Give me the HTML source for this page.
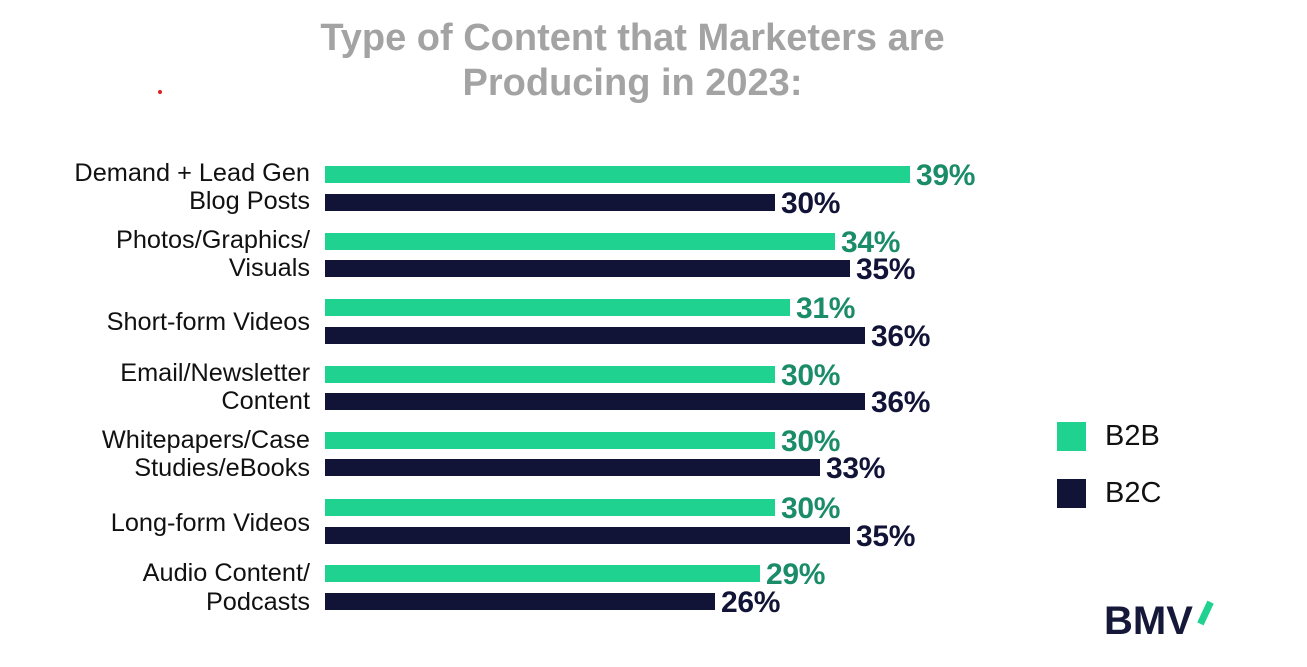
<!DOCTYPE html>
<html><head><style>
body{margin:0;width:1307px;height:667px;background:#fff;overflow:hidden;font-family:"Liberation Sans",sans-serif;position:relative}
.t{position:absolute;left:0;width:1265px;text-align:center;color:#a3a3a3;font-weight:bold;font-size:38px;line-height:45px;top:16px}
.l{position:absolute;right:997px;text-align:right;color:#111;font-size:25.3px;line-height:28px;white-space:nowrap}
.b{position:absolute;left:325px;height:17px}
.g{background:#1fd28f}.n{background:#121437}
.v{position:absolute;font-weight:bold;font-size:30px;line-height:30px;letter-spacing:-0.3px}
.vg{color:#1b8c68}.vn{color:#121437}
</style></head><body>
<div class="t">Type of Content that Marketers are<br>Producing in 2023:</div>
<div style="position:absolute;left:158px;top:90px;width:4px;height:4px;border-radius:2px;background:#d22"></div>

<div class="l" style="top:159px">Demand + Lead Gen</div>
<div class="l" style="top:187px">Blog Posts</div>
<div class="l" style="top:226px">Photos/Graphics/</div>
<div class="l" style="top:254px">Visuals</div>
<div class="l" style="top:308px">Short-form Videos</div>
<div class="l" style="top:359px">Email/Newsletter</div>
<div class="l" style="top:387px">Content</div>
<div class="l" style="top:426px">Whitepapers/Case</div>
<div class="l" style="top:454px">Studies/eBooks</div>
<div class="l" style="top:509px">Long-form Videos</div>
<div class="l" style="top:559px">Audio Content/</div>
<div class="l" style="top:588px">Podcasts</div>

<div class="b g" style="top:166px;width:585px"></div><div class="v vg" style="left:916px;top:161px">39%</div>
<div class="b n" style="top:194px;width:450px"></div><div class="v vn" style="left:781px;top:189px">30%</div>
<div class="b g" style="top:233px;width:510px"></div><div class="v vg" style="left:841px;top:228px">34%</div>
<div class="b n" style="top:260px;width:525px"></div><div class="v vn" style="left:856px;top:255px">35%</div>
<div class="b g" style="top:299px;width:465px"></div><div class="v vg" style="left:796px;top:294px">31%</div>
<div class="b n" style="top:327px;width:540px"></div><div class="v vn" style="left:871px;top:322px">36%</div>
<div class="b g" style="top:366px;width:450px"></div><div class="v vg" style="left:781px;top:361px">30%</div>
<div class="b n" style="top:393px;width:540px"></div><div class="v vn" style="left:871px;top:388px">36%</div>
<div class="b g" style="top:432px;width:450px"></div><div class="v vg" style="left:781px;top:427px">30%</div>
<div class="b n" style="top:459px;width:495px"></div><div class="v vn" style="left:826px;top:454px">33%</div>
<div class="b g" style="top:499px;width:450px"></div><div class="v vg" style="left:781px;top:494px">30%</div>
<div class="b n" style="top:527px;width:525px"></div><div class="v vn" style="left:856px;top:522px">35%</div>
<div class="b g" style="top:565px;width:435px"></div><div class="v vg" style="left:766px;top:560px">29%</div>
<div class="b n" style="top:593px;width:390px"></div><div class="v vn" style="left:721px;top:588px">26%</div>

<div style="position:absolute;left:1057px;top:422px;width:29px;height:29px;background:#1fd28f"></div>
<div style="position:absolute;left:1105px;top:420px;font-size:29px;color:#111">B2B</div>
<div style="position:absolute;left:1057px;top:479px;width:29px;height:29px;background:#121437"></div>
<div style="position:absolute;left:1105px;top:477px;font-size:29px;color:#111">B2C</div>

<div style="position:absolute;left:1104px;top:598px;font-size:40px;font-weight:bold;color:#16183a;line-height:46px">BMV</div>
<div style="position:absolute;left:1202px;top:601px;width:7px;height:24px;background:#1fd28f;transform:rotate(25deg)"></div>
</body></html>
